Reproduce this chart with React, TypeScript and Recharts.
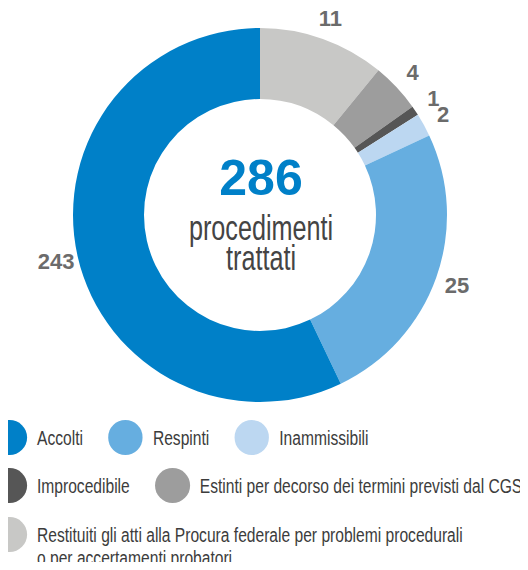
import { PieChart, Pie, Cell } from "recharts";

/// slices in drawing order, clockwise from 12 o'clock
const categories = [
  "Restituiti gli atti alla Procura federale per problemi procedurali\no per accertamenti probatori",
  "Estinti per decorso dei termini previsti dal CGS",
  "Improcedibile",
  "Inammissibili",
  "Respinti",
  "Accolti",
];
/// numbers printed next to each slice
const counts = [11, 4, 1, 2, 25, 243];
/// angular size of each slice as drawn in the picture (degrees, not proportional)
const arcDegrees = [39.3, 15.3, 3, 7.2, 89.6, 205.6];
const colors = ["#c8c8c6", "#9d9d9d", "#565656", "#bcd7f1", "#66aee0", "#0080c8"];

const total = 286;
const totalLabel = ["procedimenti", "trattati"];

/// legend rows, by index into categories
const legendRows = [
  [5, 4, 3],
  [2, 1],
  [0],
];

const FONT = '"Liberation Sans", Arial, sans-serif';
const SQUEEZE = 0.78; // fake a condensed face
const RAD = Math.PI / 180;
const CX = 260;
const CY = 215;

const data = categories.map((name, i) => ({
  name,
  count: counts[i],
  arc: arcDegrees[i],
  color: colors[i],
}));

/// slice value outside the ring
function renderCount(props: any) {
  const { cx, cy, midAngle, outerRadius, index } = props;
  const r = outerRadius + 22;
  const x = cx + r * Math.cos(-midAngle * RAD);
  const y = cy + r * Math.sin(-midAngle * RAD);
  return (
    <text
      x={x}
      y={y}
      textAnchor="middle"
      dominantBaseline="central"
      fill="#6b6b6b"
      fontFamily={FONT}
      fontWeight="bold"
      fontSize={22}
    >
      {counts[index]}
    </text>
  );
}

/// total in the hole of the donut
function CenterTotal() {
  return (
    <div style={{ position: "absolute", left: 0, top: 0, pointerEvents: "none" }}>
      <svg width={528} height={420}>
        <text x={CX + 1} y={CY - 20} textAnchor="middle" fill="#0080c8" fontFamily={FONT} fontWeight="bold" fontSize={50}>
          {total}
        </text>
        <text
          transform={`translate(${CX + 1},${CY + 25}) scale(0.72,1)`}
          textAnchor="middle"
          fill="#444"
          fontFamily={FONT}
          fontSize={35}
        >
          {totalLabel[0]}
        </text>
        <text
          transform={`translate(${CX + 1},${CY + 55}) scale(0.72,1)`}
          textAnchor="middle"
          fill="#444"
          fontFamily={FONT}
          fontSize={35}
        >
          {totalLabel[1]}
        </text>
      </svg>
    </div>
  );
}

function ChartLegend() {
  return (
    <div
      style={{
        position: "absolute",
        left: -8,
        top: 419.5,
        fontFamily: FONT,
        fontSize: 20,
        color: "#3c3c3c",
        width: 660,
        transform: `scaleX(${SQUEEZE})`,
        transformOrigin: "0 0",
      }}
    >
      {legendRows.map((row, r) => (
        <div key={r} style={{ display: "flex", alignItems: "flex-start", marginBottom: 13.5 }}>
          {row.map((i, k) => (
            <div
              key={i}
              style={{
                display: "flex",
                alignItems: "flex-start",
                flexShrink: 0,
                marginRight: k < row.length - 1 ? 25 / SQUEEZE : 0,
              }}
            >
              <span
                style={{
                  width: 35 / SQUEEZE,
                  height: 35,
                  borderRadius: "50%",
                  background: colors[i],
                  flexShrink: 0,
                }}
              />
              <span style={{ marginLeft: 10 / SQUEEZE, paddingTop: 7, lineHeight: "23px", whiteSpace: "pre" }}>
                {categories[i]}
              </span>
            </div>
          ))}
        </div>
      ))}
    </div>
  );
}

export default function App() {
  return (
    <div style={{ margin: -8, width: 528, height: 570, position: "relative" }}>
      <PieChart width={528} height={420} margin={{ top: 0, right: 0, bottom: 0, left: 0 }}>
        <Pie
          data={data}
          dataKey="arc"
          cx={CX}
          cy={CY}
          innerRadius={116}
          outerRadius={187}
          startAngle={90}
          endAngle={-270}
          stroke="none"
          labelLine={false}
          label={renderCount}
          isAnimationActive={false}
        >
          {data.map((entry, index) => (
            <Cell key={`cell-${index}`} fill={entry.color} />
          ))}
        </Pie>
      </PieChart>
      <CenterTotal />
      <ChartLegend />
    </div>
  );
}
